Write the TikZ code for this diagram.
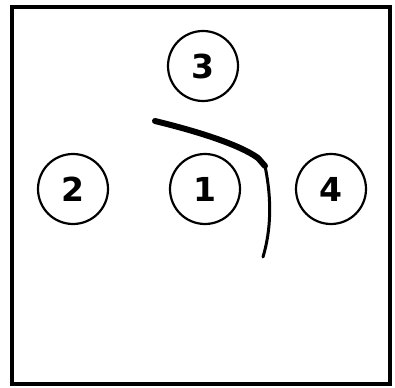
\documentclass[tikz,border=0pt]{standalone}
\usepackage{fontspec}
\newfontfamily\digitfont{DejaVu Sans}
\usetikzlibrary{positioning}

\begin{document}
\begin{tikzpicture}[x=1pt, y=-1pt,
  every node/.style={font=\digitfont\bfseries\fontsize{33}{33}\selectfont},
  c/.style={draw, circle, line width=2.2pt, minimum size=70pt, inner sep=0pt},
  w/.style={line width=#1, line cap=round, line join=round}]
\useasboundingbox (0,0) rectangle (395,387);
\draw[line width=3.5pt] (12,7) rectangle (390,384);
\node[c] (n3) at (203,66)  {3};
\node[c] (n2) at (73,189)  {2};
\node[c] (n1) at (205,189) {1};
\node[c] (n4) at (331,189) {4};
% bent stroke between 1 and 4
\coordinate (k0) at (155,121);
\coordinate (k1) at (265,166);
\coordinate (k2) at (263,257);
\draw[w=6pt] (k0) .. controls (200,132) and (240,145) .. (258,158) -- (k1);
\draw[w=3pt] (k1) .. controls (272,200) and (271,230) .. (k2);
\end{tikzpicture}
\end{document}
